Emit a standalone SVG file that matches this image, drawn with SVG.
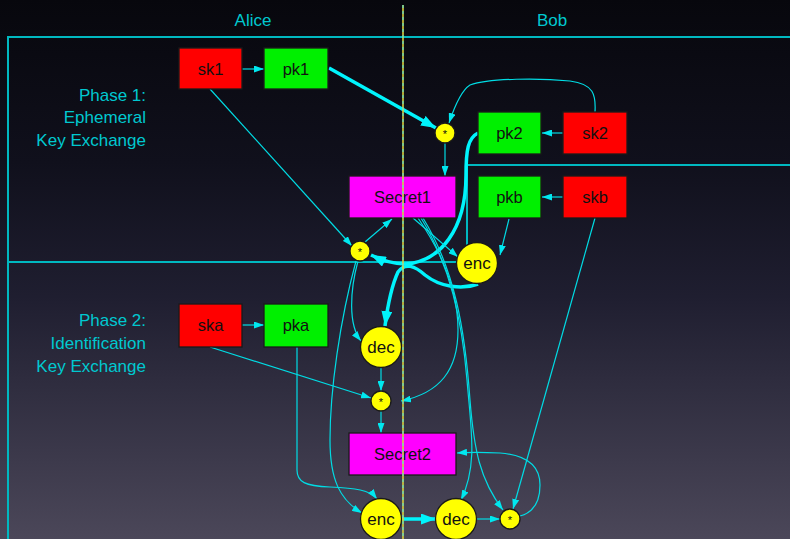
<svg xmlns="http://www.w3.org/2000/svg" width="790" height="539" viewBox="0 0 790 539">
  <defs>
    <linearGradient id="bg" x1="0" y1="0" x2="0" y2="1">
      <stop offset="0" stop-color="#07070d"/>
      <stop offset="0.3" stop-color="#10101c"/>
      <stop offset="0.55" stop-color="#1f1e30"/>
      <stop offset="1" stop-color="#4b4759"/>
    </linearGradient>
    <marker id="ah" viewBox="0 0 10 7" refX="10" refY="3.5" markerWidth="10" markerHeight="7" markerUnits="userSpaceOnUse" orient="auto">
      <path d="M0,0 L10,3.5 L0,7 z" fill="#00e8f0"/>
    </marker>
    <marker id="ahb" viewBox="0 0 15 11" refX="15" refY="5.5" markerWidth="15" markerHeight="11" markerUnits="userSpaceOnUse" orient="auto">
      <path d="M0,0 L15,5.5 L0,11 z" fill="#00f4fc"/>
    </marker>
  </defs>
  <style>
    .frame { fill: none; stroke: #00b8c0; stroke-width: 2; }
    .lane { font-family: "Liberation Sans", Arial, sans-serif; font-size: 17px; fill: #00c8d0; }
    .phase { font-family: "Liberation Sans", Arial, sans-serif; font-size: 17px; fill: #00c8d0; text-anchor: end; }
    .e { fill: none; stroke: #00dce4; stroke-width: 1.2; marker-end: url(#ah); }
    .t { fill: none; stroke: #00f4fc; stroke-width: 3.5; marker-end: url(#ahb); }
    .box { stroke: #1a1a1a; stroke-width: 1.3; }
    .sk { fill: #ff0000; }
    .pk { fill: #00f000; }
    .sec { fill: #ff00ff; }
    .op { fill: #ffff00; stroke: #1a1a1a; stroke-width: 1.3; }
    .lbl { font-family: "Liberation Sans", Arial, sans-serif; font-size: 16.5px; fill: #111; text-anchor: middle; }
    .olbl { font-family: "Liberation Sans", Arial, sans-serif; font-size: 17px; fill: #111; text-anchor: middle; }
    .star { font-family: "Liberation Sans", Arial, sans-serif; font-size: 11px; fill: #111; text-anchor: middle; }
  </style>

  <rect x="0" y="0" width="790" height="539" fill="url(#bg)"/>

  <!-- swimlane frame and phase separator -->
  <g id="frame">
    <path class="frame" d="M8,539 V37 H790"/>
    <path class="frame" d="M8,262 H467 V165 H790"/>
    <text class="lane" x="253" y="26" text-anchor="middle">Alice</text>
    <text class="lane" x="552" y="26" text-anchor="middle">Bob</text>
    <text class="phase" x="146" y="101">Phase 1:</text>
    <text class="phase" x="146" y="123">Ephemeral</text>
    <text class="phase" x="146" y="146">Key Exchange</text>
    <text class="phase" x="146" y="326">Phase 2:</text>
    <text class="phase" x="146" y="349">Identification</text>
    <text class="phase" x="146" y="372">Key Exchange</text>
  </g>

  <!-- connectors -->
  <g id="edges">
    <path class="e" d="M242,69 L264,69"/>
    <path class="t" d="M329,68 L436,128"/>
    <path class="e" d="M595,112 C596,95 594,84 570,81 C540,78 490,78 470,85 C462,90 455,105 449,123"/>
    <path class="e" d="M563,133 L542,133"/>
    <path class="e" d="M445,143 L445,176"/>
    <path class="e" d="M563,197 L542,197"/>
    <path class="t" d="M478,133 C468,138 466,150 466,175 C466,230 440,262 405,264 C395,264 385,262 371,255"/>
    <path class="t" d="M478,284 C462,290 440,287 425,275 C415,266 405,262 398,272 C392,285 388,303 385,326"/>
    <path class="e" d="M365,242 L392,219"/>
    <path class="e" d="M210,89 L352,246"/>
    <path class="e" d="M413,218 L458,257"/>
    <path class="e" d="M509,219 L500,255"/>
    <path class="e" d="M358,261 C350,290 348,325 361,341"/>
    <path class="e" d="M356,261 C340,320 330,390 330,440 C330,480 340,500 362,513"/>
    <path class="e" d="M242,325 L264,325"/>
    <path class="e" d="M210,347 L371,398"/>
    <path class="e" d="M297,347 L297,470 C297,482 305,486 330,487 C355,488 370,490 377,499"/>
    <path class="e" d="M381,368 L381,391"/>
    <path class="e" d="M381,411 L381,433"/>
    <path class="e" d="M418,218 C440,250 458,290 458,330 C458,370 440,393 401,401"/>
    <path class="e" d="M421,218 C450,265 462,320 467,380 C471,430 478,465 461,500"/>
    <path class="e" d="M423,218 C455,270 465,330 470,400 C474,450 480,480 503,510"/>
    <path class="e" d="M595,218 L513,509"/>
    <path class="t" d="M401,519 L436,519"/>
    <path class="e" d="M476,519 L500,519"/>
    <path class="e" d="M520,516 C535,512 540,500 540,485 C540,465 525,455 500,453 C480,452 470,452 457,453"/>
  </g>

  <!-- nodes -->
  <g id="sk1"><rect class="box sk" x="179" y="48" width="63" height="41"/><text class="lbl" x="210.5" y="75">sk1</text></g>
  <g id="pk1"><rect class="box pk" x="264" y="48" width="64" height="41"/><text class="lbl" x="296" y="75">pk1</text></g>
  <g id="pk2"><rect class="box pk" x="478" y="112" width="63" height="42"/><text class="lbl" x="509.5" y="139">pk2</text></g>
  <g id="sk2"><rect class="box sk" x="563" y="112" width="64" height="42"/><text class="lbl" x="595" y="139">sk2</text></g>
  <g id="dh1"><circle class="op" cx="445" cy="133" r="10"/><text class="star" x="445" y="138">*</text></g>
  <g id="secret1"><rect class="box sec" x="349" y="176" width="107" height="42"/><text class="lbl" x="402.5" y="203">Secret1</text></g>
  <g id="pkb"><rect class="box pk" x="478" y="176" width="63" height="42"/><text class="lbl" x="509.5" y="203">pkb</text></g>
  <g id="skb"><rect class="box sk" x="563" y="176" width="64" height="42"/><text class="lbl" x="595" y="203">skb</text></g>
  <g id="dh2"><circle class="op" cx="360" cy="251" r="10"/><text class="star" x="360" y="256">*</text></g>
  <g id="enc1"><circle class="op" cx="477" cy="263" r="20.5"/><text class="olbl" x="477" y="269">enc</text></g>
  <g id="ska"><rect class="box sk" x="179" y="304" width="63" height="43"/><text class="lbl" x="210.5" y="331">ska</text></g>
  <g id="pka"><rect class="box pk" x="264" y="304" width="64" height="43"/><text class="lbl" x="296" y="331">pka</text></g>
  <g id="dec1"><circle class="op" cx="381" cy="347" r="20.5"/><text class="olbl" x="381" y="353">dec</text></g>
  <g id="dh3"><circle class="op" cx="381" cy="401" r="10"/><text class="star" x="381" y="406">*</text></g>
  <g id="secret2"><rect class="box sec" x="349" y="433" width="107" height="42"/><text class="lbl" x="402.5" y="460">Secret2</text></g>
  <g id="enc2"><circle class="op" cx="381" cy="519" r="20.5"/><text class="olbl" x="381" y="525">enc</text></g>
  <g id="dec2"><circle class="op" cx="456" cy="519" r="20.5"/><text class="olbl" x="456" y="525">dec</text></g>
  <g id="dh4"><circle class="op" cx="510" cy="519" r="10"/><text class="star" x="510" y="524">*</text></g>

  <!-- lane divider -->
  <g id="divider">
    <line x1="403" y1="5" x2="403" y2="539" stroke="#d8d040" stroke-width="1.6"/>
    <line x1="403" y1="5" x2="403" y2="539" stroke="#40ecf0" stroke-width="0.9" stroke-dasharray="3 3"/>
  </g>
</svg>
